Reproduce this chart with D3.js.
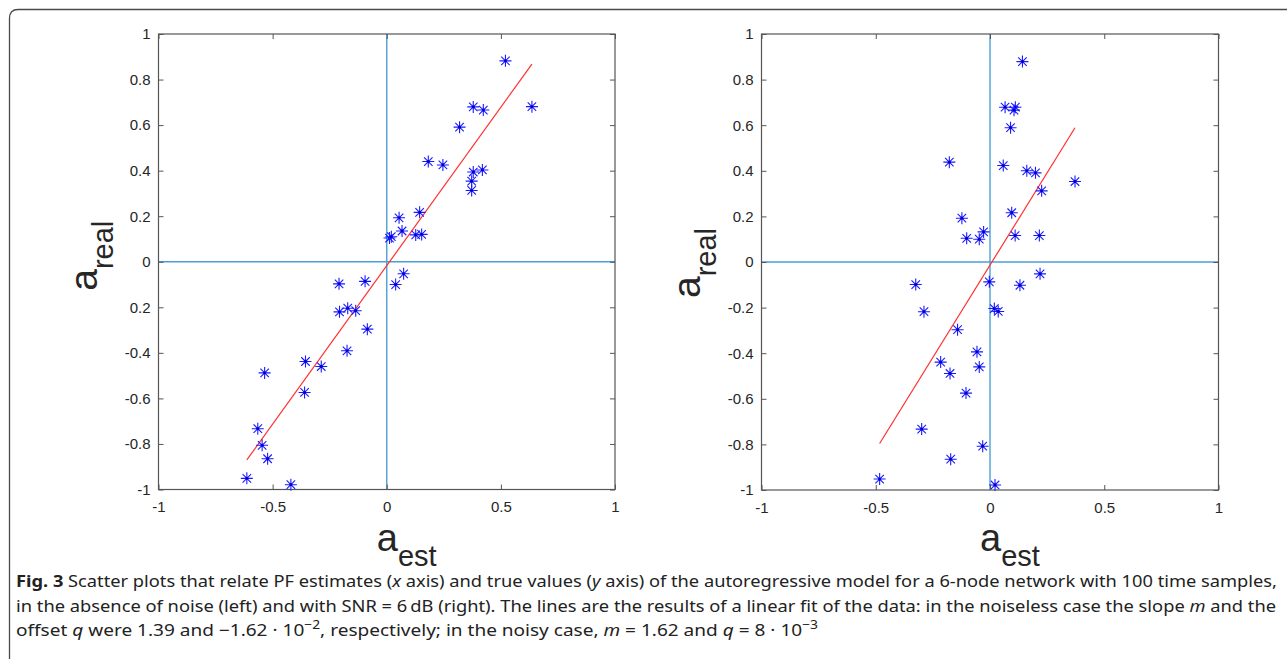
<!DOCTYPE html>
<html>
<head>
<meta charset="utf-8">
<script src="https://cdn.jsdelivr.net/npm/d3@7"></script>
<style>
  body { margin: 0; background: #fff; }
  svg { display: block; }
</style>
</head>
<body>
<svg id="fig" width="1287" height="659"></svg>
<script>
// noiseless case (left panel): PF estimate vs real value
const leftEst  = [0.52, 0.636, 0.379, 0.423, 0.319, 0.182, 0.246, 0.379, 0.419, 0.372, 0.372, 0.054, 0.144, 0.067, 0.012, 0.02, 0.127, 0.153,
                  0.074, 0.039, -0.209, -0.095, -0.171, -0.207, -0.136, -0.085, -0.174, -0.356, -0.287, -0.535, -0.36, -0.565, -0.546, -0.522, -0.613, -0.42]
const leftReal = [0.882, 0.681, 0.68, 0.666, 0.591, 0.44, 0.425, 0.394, 0.403, 0.354, 0.313, 0.193, 0.217, 0.135, 0.104, 0.11, 0.118, 0.12,
                  -0.053, -0.1, -0.097, -0.086, -0.204, -0.22, -0.215, -0.296, -0.391, -0.438, -0.46, -0.488, -0.574, -0.733, -0.806, -0.865, -0.951, -0.979]
const leftFitX = [-0.613, 0.636]
const leftFitY = [-0.87, 0.868]

// SNR = 6 dB (right panel)
const rightEst  = [0.142, 0.066, 0.111, 0.105, 0.09, -0.178, 0.058, 0.161, 0.199, 0.372, 0.226, 0.095, -0.123, -0.028, -0.102, -0.047, 0.11, 0.216,
                   0.219, -0.003, 0.131, -0.325, -0.289, 0.019, 0.036, -0.142, -0.057, -0.216, -0.047, -0.175, -0.105, -0.299, -0.032, -0.172, -0.483, 0.022]
const rightReal = [0.879, 0.679, 0.679, 0.666, 0.589, 0.438, 0.423, 0.4, 0.391, 0.353, 0.312, 0.216, 0.192, 0.132, 0.104, 0.1, 0.116, 0.116,
                   -0.052, -0.087, -0.102, -0.099, -0.218, -0.204, -0.217, -0.297, -0.394, -0.439, -0.46, -0.489, -0.575, -0.733, -0.808, -0.865, -0.952, -0.978]
const rightFitX = [-0.483, 0.372]
const rightFitY = [-0.796, 0.589]

const xTicks = [-1, -0.5, 0, 0.5, 1]
const xTickLabels = ['-1', '-0.5', '0', '0.5', '1']
const yTicks = [1, 0.8, 0.6, 0.4, 0.2, 0, -0.2, -0.4, -0.6, -0.8, -1]
const leftYTickLabels = ['1', '0.8', '0.6', '0.4', '0.2', '0', '0.2', '-0.4', '-0.6', '-0.8', '-1']
const rightYTickLabels = ['1', '0.8', '0.6', '0.4', '0.2', '0', '-0.2', '-0.4', '-0.6', '-0.8', '-1']

const svg = d3.select('#fig')
const tickFont = '"Liberation Sans", Arial, sans-serif'

// outer rounded frame of the figure box
svg.append('path')
    .attr('d', 'M9.5,659 L9.5,18 Q9.5,9.5 18,9.5 L1287,9.5')
    .attr('fill', 'none')
    .attr('stroke', '#4a4a4a')
    .attr('stroke-width', 1.3)

function starPath(r) {
    let d = ''
    for (let a = 0; a < 4; a++) {
        const t = a * Math.PI / 4
        const dx = r * Math.cos(t), dy = r * Math.sin(t)
        d += `M${-dx},${-dy}L${dx},${dy}`
    }
    return d
}

function drawPanel(p) {
    const x = d3.scaleLinear().domain([-1, 1]).range([p.left, p.right])
    const y = d3.scaleLinear().domain([-1, 1]).range([p.bottom, p.top])
    const g = svg.append('g')

    // zero lines
    g.append('line')
        .attr('x1', x(-1)).attr('x2', x(1)).attr('y1', y(0)).attr('y2', y(0))
        .attr('stroke', '#4b9fd6').attr('stroke-width', 1.4)
    g.append('line')
        .attr('x1', x(0)).attr('x2', x(0)).attr('y1', y(-1)).attr('y2', y(1))
        .attr('stroke', '#4b9fd6').attr('stroke-width', 1.4)

    // axes with inward ticks on all four sides
    const yl = g.append('g').attr('transform', `translate(${x(-1)},0)`)
        .call(d3.axisLeft(y).tickValues(yTicks).tickSizeInner(-5).tickSizeOuter(0).tickPadding(8)
            .tickFormat((d, i) => p.yLabels[i]))
    const xb = g.append('g').attr('transform', `translate(0,${y(-1)})`)
        .call(d3.axisBottom(x).tickValues(xTicks).tickSizeInner(-5).tickSizeOuter(0).tickPadding(12)
            .tickFormat((d, i) => xTickLabels[i]))
    const xt = g.append('g').attr('transform', `translate(0,${y(1)})`)
        .call(d3.axisTop(x).tickValues(xTicks).tickSizeInner(-5).tickSizeOuter(0).tickFormat(''))
    const yr = g.append('g').attr('transform', `translate(${x(1)},0)`)
        .call(d3.axisRight(y).tickValues(yTicks).tickSizeInner(-5).tickSizeOuter(0).tickFormat(''))
    ;[yl, xb, xt, yr].forEach(a => {
        a.select('.domain').remove()
        a.selectAll('line').attr('stroke', '#555')
        a.selectAll('text').attr('font-family', tickFont).attr('font-size', 15).attr('fill', '#262626')
    })

    g.append('rect')
        .attr('x', x(-1)).attr('y', y(1))
        .attr('width', x(1) - x(-1)).attr('height', y(-1) - y(1))
        .attr('fill', 'none').attr('stroke', '#555').attr('stroke-width', 1.2)

    // linear fit
    g.append('path')
        .datum(d3.zip(p.fitX, p.fitY))
        .attr('d', d3.line().x(d => x(d[0])).y(d => y(d[1])))
        .attr('stroke', '#ff3030').attr('stroke-width', 1.2).attr('fill', 'none')

    // asterisk markers
    const pts = g.selectAll('g.pt').data(d3.zip(p.est, p.real)).join('g')
        .attr('class', 'pt')
        .attr('transform', d => `translate(${x(d[0])},${y(d[1])})`)
    pts.append('path').attr('d', starPath(6)).attr('stroke', '#1a1aff').attr('stroke-width', 1.1)
    pts.append('circle').attr('r', 1.4).attr('fill', '#0000cc')

    // axis labels a_est and a_real
    const xl = g.append('text')
        .attr('x', x(0) - 10).attr('y', 551)
        .attr('font-family', tickFont).attr('fill', '#262626')
    xl.append('tspan').attr('font-size', 38).text('a')
    xl.append('tspan').attr('font-size', 29).attr('dy', 15).text('est')

    const ylab = g.append('text')
        .attr('transform', `translate(${p.left - 62},${y(0) + p.ylabShift}) rotate(-90)`)
        .attr('font-family', tickFont).attr('fill', '#262626')
    ylab.append('tspan').attr('font-size', 39).text('a')
    ylab.append('tspan').attr('font-size', 29).attr('dy', 16).text('real')
}

drawPanel({ left: 158.5, right: 615, top: 34, bottom: 489.5, est: leftEst, real: leftReal,
            fitX: leftFitX, fitY: leftFitY, yLabels: leftYTickLabels, ylabShift: 29 })
drawPanel({ left: 761.5, right: 1218.5, top: 34, bottom: 490, est: rightEst, real: rightReal,
            fitX: rightFitX, fitY: rightFitY, yLabels: rightYTickLabels, ylabShift: 36 })

// caption
const capFont = '"Noto Sans", "Open Sans", sans-serif'
const capLines = [
    { y: 587, len: 1261, parts: [['Fig. 3', 'b'], ['  Scatter plots that relate PF estimates ('], ['x', 'i'], [' axis) and true values ('], ['y', 'i'],
        [' axis) of the autoregressive model for a 6-node network with 100 time samples,']] },
    { y: 612, len: 1260, parts: [['in the absence of noise (left) and with SNR = 6\u2009dB (right). The lines are the results of a linear fit of the data: in the noiseless case the slope '],
        ['m', 'i'], [' and the']] },
    { y: 636, len: 802, parts: [['offset '], ['q', 'i'], [' were 1.39 and \u22121.62 \u00b7 10'], ['\u22122', 's'], [', respectively; in the noisy case, '], ['m', 'i'],
        [' = 1.62 and '], ['q', 'i'], [' = 8 \u00b7 10'], ['\u22123', 's']] }
]
capLines.forEach(l => {
    const t = svg.append('text')
        .attr('x', 16).attr('y', l.y)
        .attr('font-family', capFont).attr('font-size', 16.5).attr('fill', '#222')
        .attr('textLength', l.len).attr('lengthAdjust', 'spacingAndGlyphs')
    let raised = false
    l.parts.forEach(([s, f]) => {
        const ts = t.append('tspan').text(s)
        if (f === 'b') ts.attr('font-weight', 'bold')
        if (f === 'i') ts.attr('font-style', 'italic')
        if (f === 's') { ts.attr('font-size', 12).attr('dy', -7); raised = true }
        else if (raised) { ts.attr('dy', 7); raised = false }
    })
})
</script>
</body>
</html>
